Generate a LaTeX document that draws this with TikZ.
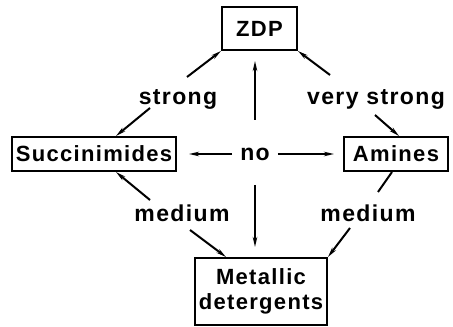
\documentclass[tikz,border=0pt]{standalone}
\usepackage{fontspec}
\setmainfont{Liberation Sans}[LetterSpace=6]
\usepackage{tikz}
\usetikzlibrary{arrows.meta, calc}

\begin{document}
\begin{tikzpicture}[x=1pt,y=1pt,
    box/.style={draw, line width=2pt, inner sep=0pt, align=center,
      font=\fontsize{22}{25}\selectfont\bfseries},
    lbl/.style={inner sep=1pt, font=\fontsize{23}{26}\selectfont\bfseries},
    link/.style={line width=2pt},
    arr/.style={link, -{Stealth[length=10pt,width=4.5pt]}}]
  \path[use as bounding box] (0,0) rectangle (453,327);

  % additive boxes
  \node[box, minimum width=75, minimum height=43] (zdp) at (259.5,298.5) {ZDP};
  \node[box, minimum width=164, minimum height=34] (succ) at (94,173) {Succinimides};
  \node[box, minimum width=104, minimum height=34] (amines) at (396,173) {Amines};
  \node[box, minimum width=132, minimum height=67] (metal) at (261,35.5) {Metallic\\detergents};

  % interaction labels
  \node[lbl] (no) at (255,173) {no};
  \node[lbl] (strong) at (178,228) {strong};
  \node[lbl] (vstrong) at (376,228) {very strong};
  \node[lbl] (medl) at (182,114) {medium};
  \node[lbl] (medr) at (368,114) {medium};

  % free ends of the connectors
  \coordinate (s1) at (187,250);
  \coordinate (s2) at (150,219);
  \coordinate (v1) at (330,252);
  \coordinate (v2) at (375,212);
  \coordinate (m1) at (150,127);
  \coordinate (m2) at (190,97);
  \coordinate (n1) at (378,135);
  \coordinate (n2) at (350,99);
  \coordinate (up) at (255,207);
  \coordinate (dn) at (255,142);

  \draw[arr] (s1) -- (zdp.south west);
  \draw[arr] (s2) -- ($(succ.north west)+(105,0)$);
  \draw[arr] (v1) -- (zdp.south east);
  \draw[arr] (v2) -- ($(amines.north west)+(56,0)$);
  \draw[arr] (m1) -- ($(succ.south west)+(105,0)$);
  \draw[arr] (m2) -- ($(metal.north west)+(32,0)$);
  \draw[link] (n1) -- ($(amines.south west)+(49,0)$);
  \draw[arr] (n2) -- (metal.north east);

  \draw[arr, shorten <=7pt, shorten >=12pt] (no) -- (succ);
  \draw[arr, shorten <=7pt, shorten >=9pt] (no) -- (amines);
  \draw[arr, shorten >=10pt] (up) -- (up |- zdp.south);
  \draw[arr, shorten >=10pt] (dn) -- (dn |- metal.north);
\end{tikzpicture}
\end{document}
